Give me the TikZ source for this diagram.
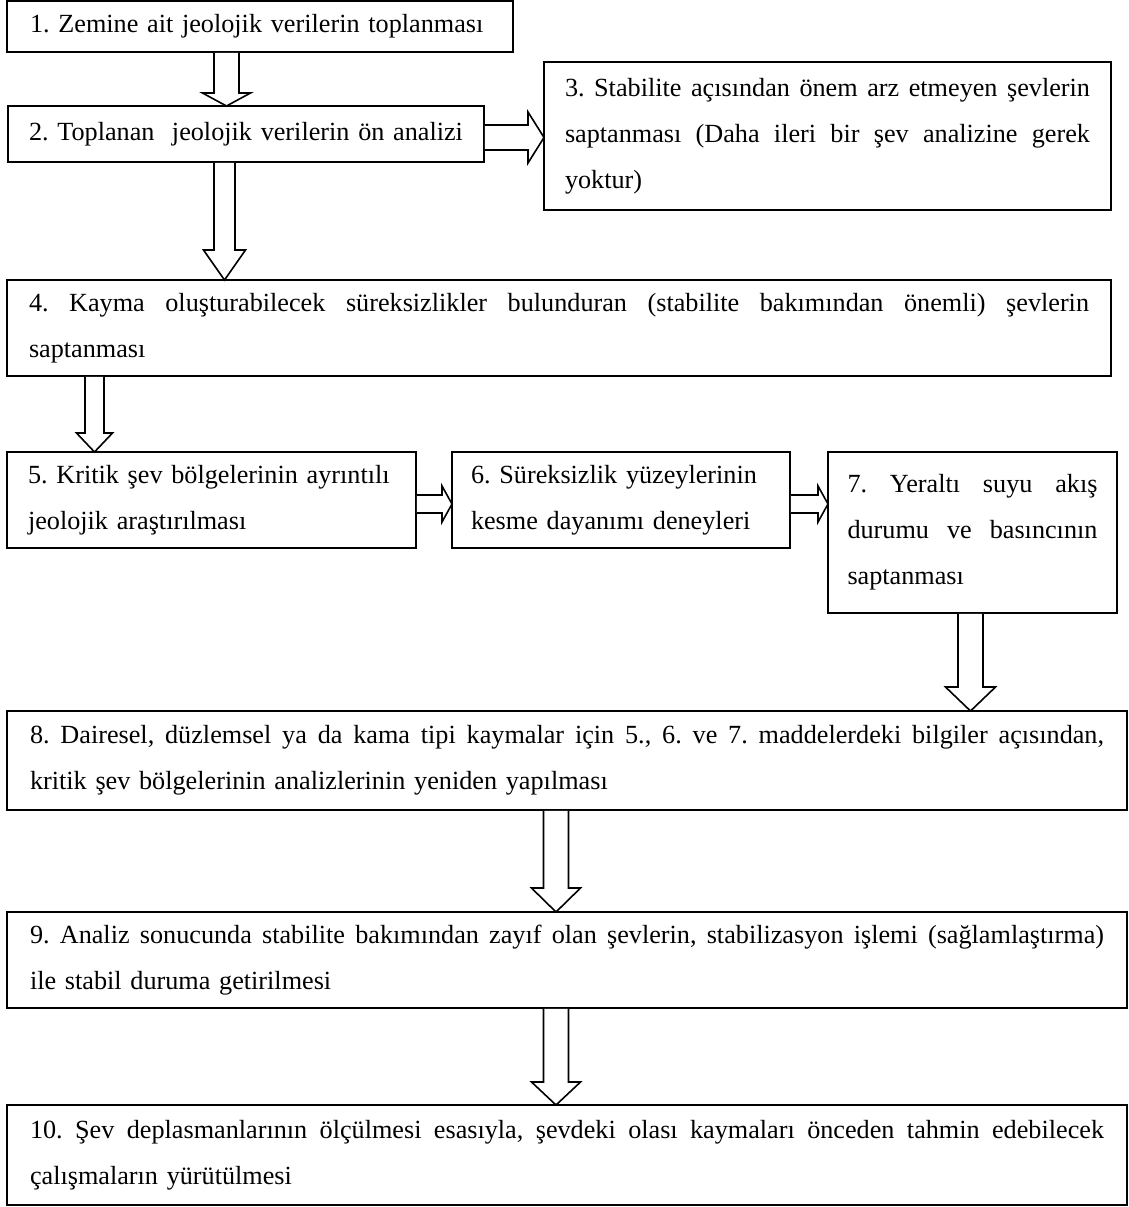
\documentclass[tikz,border=0pt]{standalone}
\usepackage{fontspec}
\setmainfont{Liberation Serif}
\usetikzlibrary{calc}
\tikzset{
  box/.style={draw, line width=1.6pt, anchor=north west, outer sep=0pt,
    inner xsep=0pt, inner ysep=0pt, align=left,
    font=\fontsize{26.2}{46}\selectfont\frenchspacing},
  barrow/.style={draw, line width=1.6pt, fill=white, line join=miter}
}
\newcommand\bx[7]{%
  \pgfmathsetmacro\myBW{#4-#2}%
  \pgfmathsetmacro\myBH{#5-#3}%
  \pgfmathsetmacro\myTW{#4-#2-2*#6}%
  \node[box, minimum width=\myBW pt, minimum height=\myBH pt, text width=\myTW pt] (#1) at (#2pt,-#3pt) {#7};}
% vertical block arrow: from, to, x centre, shaft half width, head half width, head length
\newcommand\varrow[6]{%
  \draw[barrow] let \p1=(#1.south), \p2=(#2.north) in
    ({#3pt-#4pt},{\y1-0.8pt}) -- ({#3pt-#4pt},{\y2+#6pt}) -- ({#3pt-#5pt},{\y2+#6pt})
    -- (#3pt,\y2) -- ({#3pt+#5pt},{\y2+#6pt}) -- ({#3pt+#4pt},{\y2+#6pt})
    -- ({#3pt+#4pt},{\y1-0.8pt});}
% horizontal block arrow: from, to, y centre (px down), shaft half, head half, head length
\newcommand\harrow[6]{%
  \draw[barrow] let \p1=(#1.east), \p2=(#2.west) in
    ({\x1+0.8pt},{-#3pt+#4pt}) -- ({\x2-#6pt},{-#3pt+#4pt}) -- ({\x2-#6pt},{-#3pt+#5pt})
    -- (\x2,-#3pt) -- ({\x2-#6pt},{-#3pt-#5pt}) -- ({\x2-#6pt},{-#3pt-#4pt})
    -- ({\x1+0.8pt},{-#3pt-#4pt});}
\newcommand\jl[1]{\leavevmode\hbox to \myTW pt{\spaceskip=0.25em plus 1fil\relax #1}}
\newcommand\tl[1]{\mbox{#1}}
\begin{document}
\begin{tikzpicture}
\useasboundingbox (0,0) rectangle (1129pt,-1207pt);

\bx{b1}{7}{1}{513}{52}{23}{\tl{1. Zemine ait jeolojik verilerin toplanması}}
\bx{b2}{8}{106}{484}{162}{21}{\tl{2. Toplanan\ \ jeolojik verilerin ön analizi}}
\bx{b3}{544}{62}{1111}{210}{21}{\jl{3. Stabilite açısından önem arz etmeyen şevlerin}\\\jl{saptanması (Daha ileri bir şev analizine gerek}\\\tl{yoktur)}}
\bx{b4}{7}{280}{1111}{376}{22}{\jl{4. Kayma oluşturabilecek süreksizlikler bulunduran (stabilite bakımından önemli) şevlerin}\\\tl{saptanması}}
\bx{b5}{7}{452}{416}{548}{21}{\tl{5. Kritik şev bölgelerinin ayrıntılı}\\\tl{jeolojik araştırılması}}
\bx{b6}{452}{452}{790}{548}{19}{\tl{6. Süreksizlik yüzeylerinin}\\\tl{kesme dayanımı deneyleri}}
\bx{b7}{828}{452}{1117}{613}{19.5}{\jl{7. Yeraltı suyu akış}\\\jl{durumu ve basıncının}\\\tl{saptanması}}
\bx{b8}{7}{711}{1127}{810}{23}{\jl{8. Dairesel, düzlemsel ya da kama tipi kaymalar için 5., 6. ve 7. maddelerdeki bilgiler açısından,}\\\tl{kritik şev bölgelerinin analizlerinin yeniden yapılması}}
\bx{b9}{7}{912}{1127}{1008}{23}{\jl{9. Analiz sonucunda stabilite bakımından zayıf olan şevlerin, stabilizasyon işlemi (sağlamlaştırma)}\\\tl{ile stabil duruma getirilmesi}}
\bx{b10}{7}{1105}{1127}{1205}{23}{\jl{10. Şev deplasmanlarının ölçülmesi esasıyla, şevdeki olası kaymaları önceden tahmin edebilecek}\\\tl{çalışmaların yürütülmesi}}

\varrow{b1}{b2}{226.5}{12.5}{24}{13}
\varrow{b2}{b4}{224.5}{10.5}{21}{30}
\varrow{b4}{b5}{94.5}{9.5}{18}{19}
\varrow{b7}{b8}{970.5}{12.5}{25}{24}
\varrow{b8}{b9}{556}{12.5}{24.5}{24}
\varrow{b9}{b10}{556}{12.5}{24.5}{23}
\harrow{b2}{b3}{137.5}{12.5}{25.5}{16}
\harrow{b5}{b6}{504}{9}{18}{10}
\harrow{b6}{b7}{504}{9}{18}{10}
\end{tikzpicture}
\end{document}
